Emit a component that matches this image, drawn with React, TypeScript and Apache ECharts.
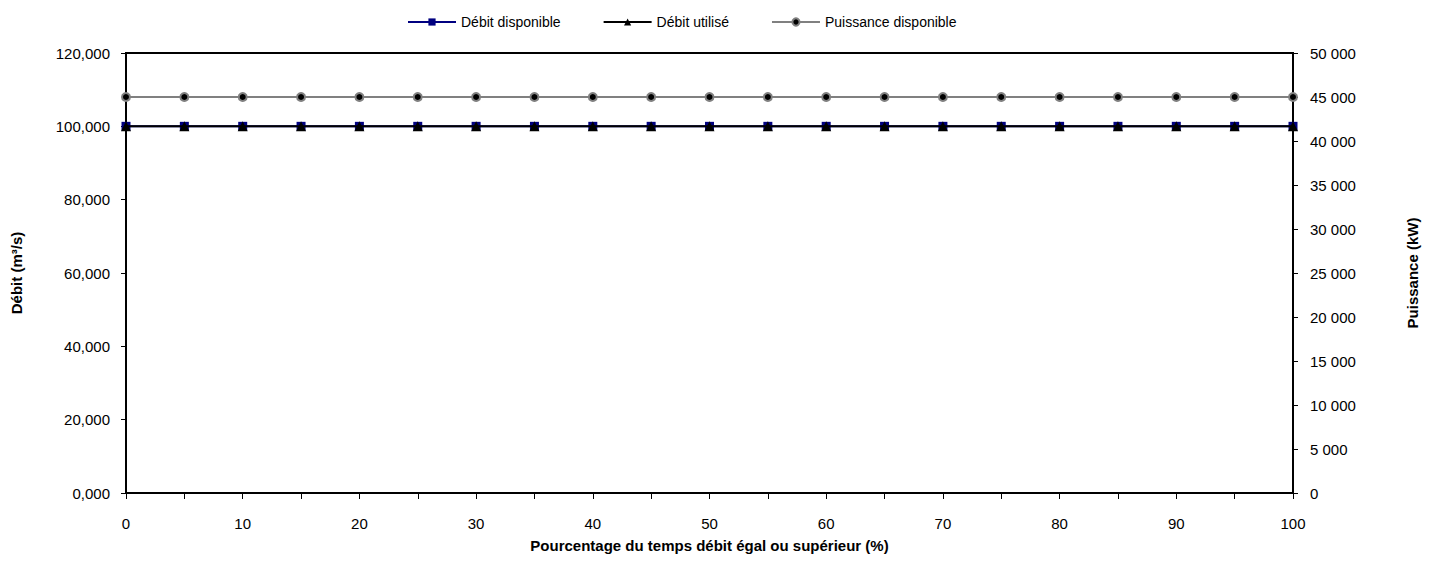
import React, { useEffect, useRef } from "react";
import * as echarts from "echarts";

const xValues = [0, 5, 10, 15, 20, 25, 30, 35, 40, 45, 50, 55, 60, 65, 70, 75, 80, 85, 90, 95, 100];
const debitDisponible = [100, 100, 100, 100, 100, 100, 100, 100, 100, 100, 100, 100, 100, 100, 100, 100, 100, 100, 100, 100, 100];
const debitUtilise = [100, 100, 100, 100, 100, 100, 100, 100, 100, 100, 100, 100, 100, 100, 100, 100, 100, 100, 100, 100, 100];
const puissanceDisponible = [45000, 45000, 45000, 45000, 45000, 45000, 45000, 45000, 45000, 45000, 45000, 45000, 45000, 45000, 45000, 45000, 45000, 45000, 45000, 45000, 45000];

const FONT = "'Liberation Sans Narrow', 'Arial Narrow', 'Liberation Sans', Arial, sans-serif";

export default function App() {
  const ref = useRef<HTMLDivElement>(null);
  useEffect(() => {
    document.body.style.margin = "0";
    const chart = echarts.init(ref.current!, null, { renderer: "svg" });
    const pair = (ys: number[]) => xValues.map((x, i) => [x, ys[i]]);
    chart.setOption({
      animation: false,
      textStyle: { fontFamily: FONT },
      legend: {
        top: 10,
        left: 402,
        itemGap: 42,
        itemWidth: 48,
        itemHeight: 9,
        textStyle: { fontFamily: FONT, fontSize: 14, color: "#000" },
        data: ["Débit disponible", "Débit utilisé", "Puissance disponible"],
      },
      grid: {
        left: 126,
        right: 142,
        top: 53,
        bottom: 87,
        show: true,
        borderColor: "#000",
        borderWidth: 2,
        backgroundColor: "transparent",
      },
      xAxis: {
        type: "value",
        min: 0,
        max: 100,
        interval: 5,
        name: "Pourcentage du temps débit égal ou supérieur (%)",
        nameLocation: "middle",
        nameGap: 45,
        nameTextStyle: { fontFamily: FONT, fontSize: 15, fontWeight: "bold", color: "#000" },
        axisLine: { show: true, lineStyle: { color: "#000", width: 2 } },
        axisTick: { show: true, length: 6, lineStyle: { color: "#000", width: 1 } },
        axisLabel: {
          fontFamily: FONT,
          fontSize: 15,
          color: "#000",
          margin: 23,
          formatter: (v: number) => (v % 10 === 0 ? String(v) : ""),
        },
        splitLine: { show: false },
      },
      yAxis: [
        {
          type: "value",
          min: 0,
          max: 120,
          interval: 20,
          position: "left",
          name: "Débit (m³/s)",
          nameLocation: "middle",
          nameGap: 102,
          nameRotate: 90,
          nameTextStyle: { fontFamily: FONT, fontSize: 15, fontWeight: "bold", color: "#000" },
          axisLine: { show: true, lineStyle: { color: "#000", width: 2 } },
          axisTick: { show: true, length: 5, lineStyle: { color: "#000", width: 1 } },
          axisLabel: {
            fontFamily: FONT,
            fontSize: 15,
            color: "#000",
            margin: 16,
            formatter: (v: number) => v.toFixed(3).replace(".", ","),
          },
          splitLine: { show: false },
        },
        {
          type: "value",
          min: 0,
          max: 50000,
          interval: 5000,
          position: "right",
          name: "Puissance (kW)",
          nameLocation: "middle",
          nameGap: 112,
          nameRotate: 90,
          nameTextStyle: { fontFamily: FONT, fontSize: 15, fontWeight: "bold", color: "#000" },
          axisLine: { show: true, lineStyle: { color: "#000", width: 2 } },
          axisTick: { show: true, length: 5, lineStyle: { color: "#000", width: 1 } },
          axisLabel: {
            fontFamily: FONT,
            fontSize: 15,
            color: "#000",
            margin: 17,
            formatter: (v: number) => String(v).replace(/\B(?=(\d{3})+(?!\d))/g, " "),
          },
          splitLine: { show: false },
        },
      ],
      series: [
        {
          name: "Puissance disponible",
          type: "line",
          yAxisIndex: 1,
          data: pair(puissanceDisponible),
          symbol: "circle",
          symbolSize: 8,
          lineStyle: { color: "#808080", width: 2 },
          itemStyle: { color: "#000", borderColor: "#808080", borderWidth: 2 },
          z: 2,
        },
        {
          name: "Débit disponible",
          type: "line",
          yAxisIndex: 0,
          data: pair(debitDisponible),
          symbol: "rect",
          symbolSize: 9,
          lineStyle: { color: "#000080", width: 2 },
          itemStyle: { color: "#000080" },
          z: 3,
        },
        {
          name: "Débit utilisé",
          type: "line",
          yAxisIndex: 0,
          data: pair(debitUtilise),
          symbol: "triangle",
          symbolSize: 10,
          lineStyle: { color: "#000", width: 2 },
          itemStyle: { color: "#000" },
          z: 4,
        },
      ],
    });
    return () => chart.dispose();
  }, []);
  return <div ref={ref} style={{ width: 1435, height: 580 }} />;
}
